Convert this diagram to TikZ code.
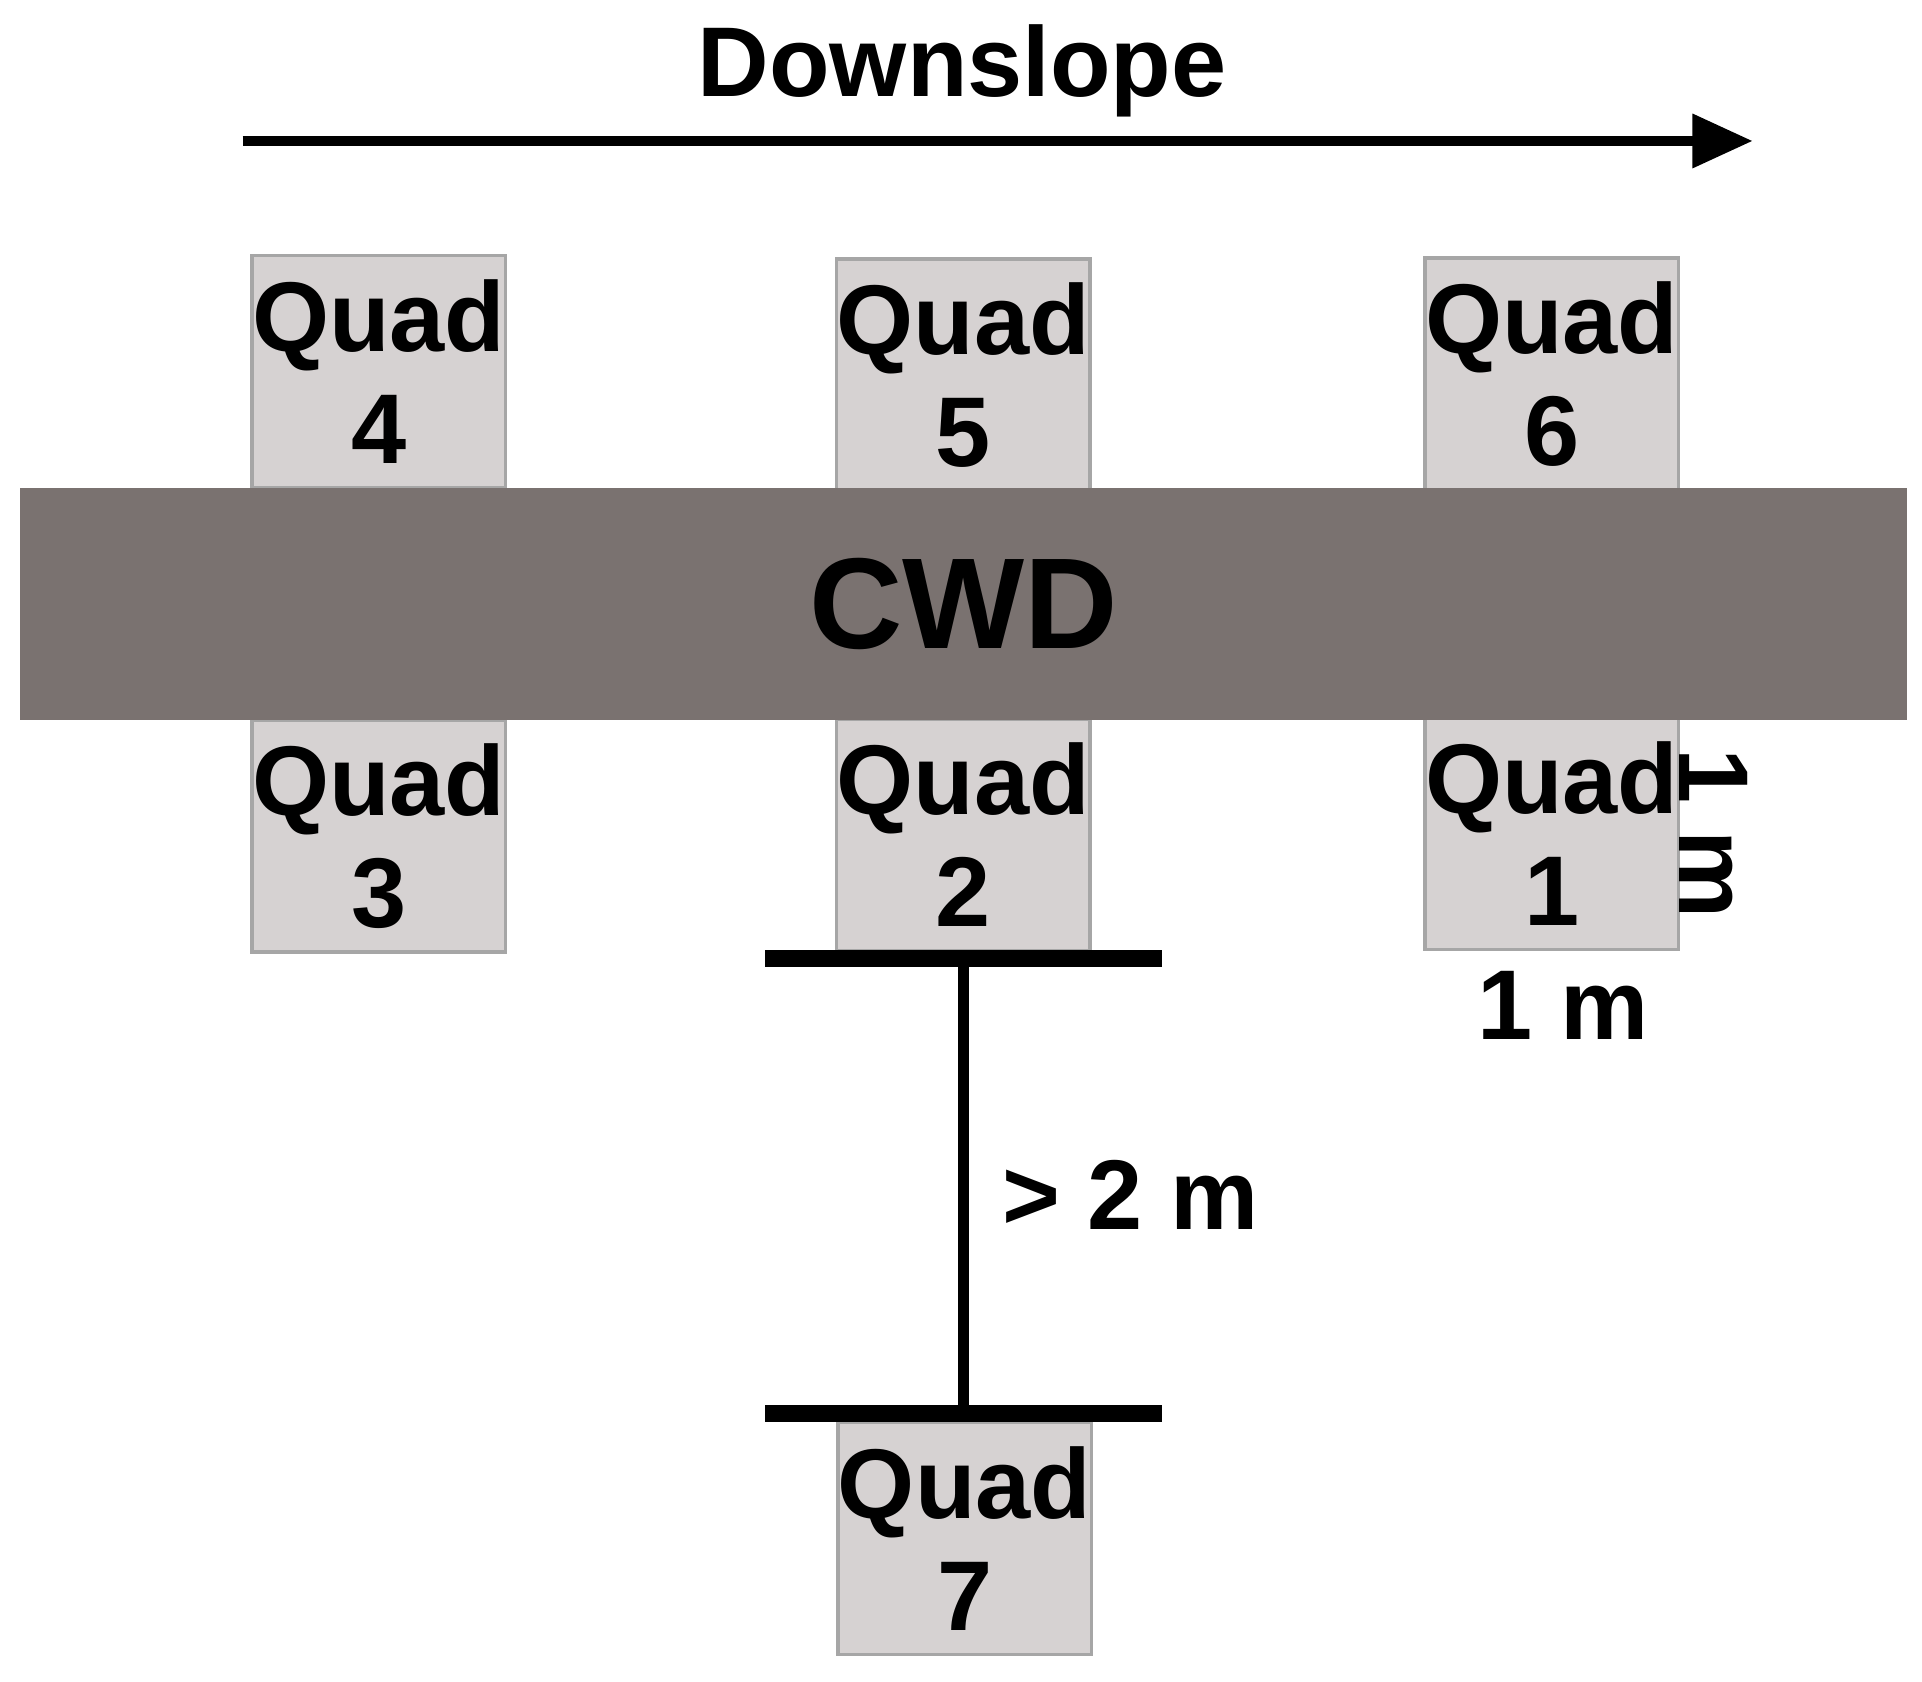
\documentclass[tikz,border=0pt]{standalone}
\usepackage{fontspec}
\setmainfont{Liberation Sans}
\usetikzlibrary{arrows.meta,positioning}
\definecolor{quadgray}{RGB}{214,210,210}
\definecolor{cwdgray}{RGB}{122,114,112}
\begin{document}
\begin{tikzpicture}[
    x=0.01cm, y=-0.01cm,
    every node/.style={font=\bfseries\fontsize{23}{26}\selectfont},
    quad/.style={draw=gray!70, fill=quadgray, minimum width=1.89cm, minimum height=1.89cm, inner sep=0pt, align=center, line width=0.8pt},
]
    \useasboundingbox (0,0) rectangle (1568,1372);
    % slope direction
    \coordinate (start) at (198,115);
    \coordinate (end) at (1430,115);
    \draw[line width=2.5pt, -{Triangle[length=14pt,width=12pt]}] (start) -- (end);
    \node (slope) at (785,58) {Downslope};

    % quadrats
    \node[quad] (q4) at (309,303) {Quad\\4};
    \node[quad] (q5) at (786,306) {Quad\\5};
    \node[quad] (q6) at (1266,305) {Quad\\6};
    \node[quad] (q3) at (309,682) {Quad\\3};
    \node[quad] (q2) at (786,681) {Quad\\2};
    \node[quad] (q1) at (1266,680) {Quad\\1};
    \node[quad] (q7) at (787,1255) {Quad\\7};

    % log
    \node[fill=cwdgray, minimum width=15.38cm, minimum height=1.89cm, inner sep=0pt,
          font=\bfseries\fontsize{30}{34}\selectfont] (cwd) at (786,493) {CWD};

    % sizes
    \node[rotate=-90] (side) at (1398,680) {1 m};
    \node (width) at (1275,820) {1 m};

    % distance to quad 7
    \coordinate (top) at (786,782);
    \coordinate (bot) at (786,1153);
    \draw[line width=2.5pt] (top) -- (bot);
    \draw[line width=4pt] ([xshift=-46]top) -- ([xshift=46]top);
    \draw[line width=4pt] ([xshift=-46]bot) -- ([xshift=46]bot);
    \node (dist) at (922,975) {> 2 m};
\end{tikzpicture}
\end{document}
